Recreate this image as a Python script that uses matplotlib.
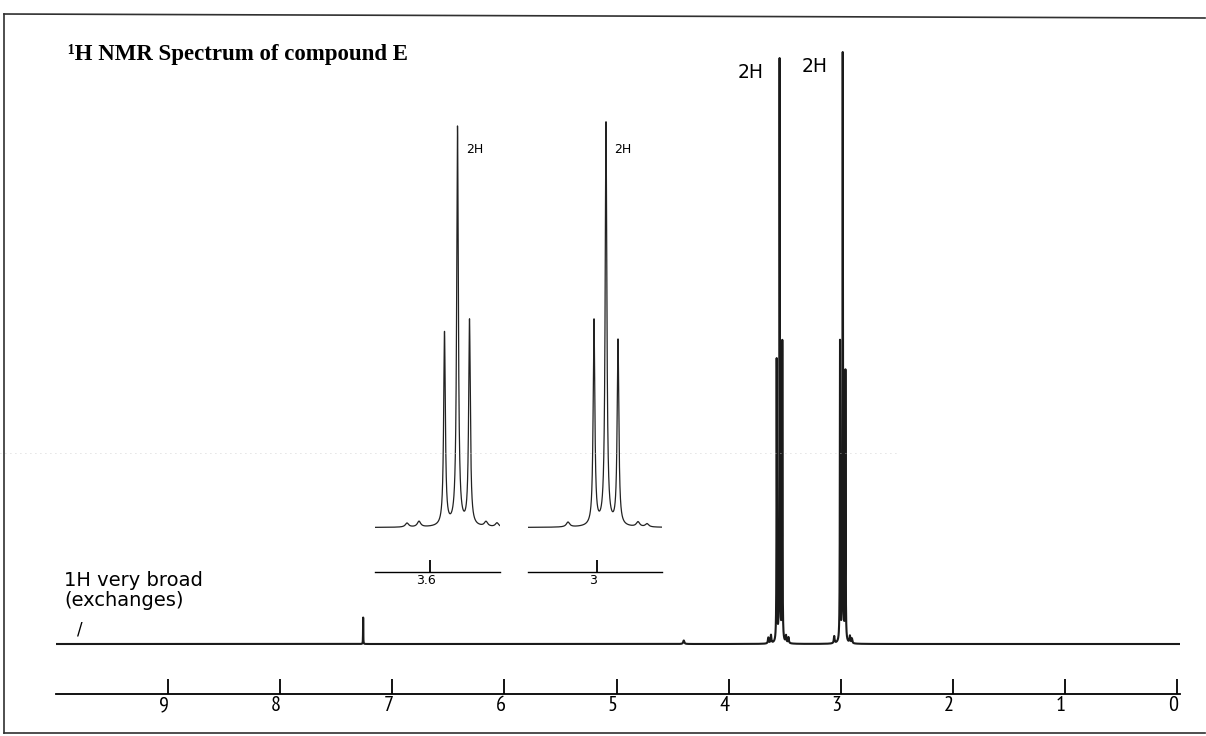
import numpy as np
import matplotlib.pyplot as plt
import matplotlib.transforms as mtransforms
from matplotlib.lines import Line2D
from matplotlib import font_manager

# ── DATA ──────────────────────────────────────────────────────────────────────
# two triplets, residual CHCl3 at 7.26 and a few tiny bumps near the baseline
PEAK_PPM    = [3.571, 3.545, 3.521, 3.006, 2.982, 2.958, 7.26, 4.40,
               3.646, 3.622, 3.488, 3.466, 3.058, 2.918, 2.900]
PEAK_HEIGHT = [0.48, 0.99, 0.51, 0.51, 1.00, 0.46, 0.045, 0.006,
               0.010, 0.014, 0.012, 0.010, 0.012, 0.012, 0.008]
PEAK_WIDTH  = [0.002, 0.002, 0.002, 0.002, 0.002, 0.002, 0.0012, 0.006,
               0.004, 0.004, 0.004, 0.004, 0.004, 0.004, 0.004]

SCALE_TICKS  = [9, 8, 7, 6, 5, 4, 3, 2, 1, 0]
INSET_TICKS  = [[3.6], [3.0]]
INSET_LABELS = [['3.6'], ['3']]
INT_LABELS   = ['2H', '2H']
TITLE = '¹H NMR Spectrum of compound E'
NOTE  = '1H very broad\n(exchanges)'

# ── HELPERS ───────────────────────────────────────────────────────────────────
W, H = 1206, 736
PX_PER_PPM = 112.1        # main scale
PX_PER_PPM_INSET = 500.0  # expansions

names = {f.name for f in font_manager.fontManager.ttflist}
SANS = 'DejaVu Sans'
NARROW = 'PT Sans Narrow' if 'PT Sans Narrow' in names else 'Liberation Sans'

fig = plt.figure(figsize=(W / 100, H / 100), dpi=100)
fig.patch.set_facecolor('white')


def px_axes(x0, y0, x1, y1):
    """axes from pixel box (top-left origin)"""
    ax = fig.add_axes([x0 / W, 1 - y1 / H, (x1 - x0) / W, (y1 - y0) / H])
    ax.patch.set_alpha(0)
    for s in ax.spines.values():
        s.set_visible(False)
    ax.set_xticks([])
    ax.set_yticks([])
    return ax


def spectrum(ppm):
    y = np.zeros_like(ppm)
    for p, h, w in zip(PEAK_PPM, PEAK_HEIGHT, PEAK_WIDTH):
        y += h / (1 + ((ppm - p) / w) ** 2)
    return y


def scale_axis(ax, ticks, labels, size, tick_len, font, shift_px):
    ax.spines['bottom'].set_visible(True)
    ax.spines['bottom'].set_linewidth(1.3)
    ax.set_xticks(ticks)
    ax.set_xticklabels(labels, fontsize=size, family=font)
    ax.tick_params(axis='x', direction='in', length=tick_len, width=1.3, pad=1.5)
    off = mtransforms.ScaledTranslation(shift_px / 100, 0, fig.dpi_scale_trans)
    for lab in ax.get_xticklabels():
        lab.set_transform(lab.get_transform() + off)


# ── MAIN SPECTRUM ─────────────────────────────────────────────────────────────
x_left, x_right = 56, 1180
ppm_left = 10.0
ppm_right = ppm_left - (x_right - x_left) / PX_PER_PPM

base_y, top_y = 644, 56           # baseline and full-height pixel rows
unit = base_y - top_y
ax = px_axes(x_left, 30, x_right, 660)
ax.set_xlim(ppm_left, ppm_right)
ax.set_ylim(-(660 - base_y) / unit, (base_y - 30) / unit)
ppm = np.linspace(ppm_left, ppm_right, 60000)
ax.plot(ppm, spectrum(ppm), color='#1a1a1a', lw=1.5)

# integration labels above the two big peaks
ax.text(3.69, 0.963, INT_LABELS[0], ha='right', va='baseline',
        fontsize=13.5, family=SANS)
ax.text(3.345, 0.973, INT_LABELS[1], ha='left', va='baseline',
        fontsize=13.5, family=SANS)

# ppm scale under the spectrum
sax = px_axes(x_left, 600, x_right, 694)
sax.set_xlim(ppm_left, ppm_right)
scale_axis(sax, SCALE_TICKS, [str(t) for t in SCALE_TICKS], 16, 10.8, NARROW, -4)

# ── EXPANSIONS ────────────────────────────────────────────────────────────────
insets = [(375, 500, 430), (528, 662, 597)]   # pixel left, right, tick position
ibase, iunit = 527.5, 403
for k, (ix0, ix1, itick) in enumerate(insets):
    t0 = INSET_TICKS[k][0]
    lo = t0 + (itick - ix0) / PX_PER_PPM_INSET
    hi = t0 - (ix1 - itick) / PX_PER_PPM_INSET
    iax = px_axes(ix0, 110, ix1, 535)
    iax.set_xlim(lo, hi)
    iax.set_ylim(-(535 - ibase) / iunit, (ibase - 110) / iunit)
    ip = np.linspace(lo, hi, 4000)
    iax.plot(ip, spectrum(ip), color='#222222', lw=0.9)
    iax.text(PEAK_PPM[3 * k + 1] - 0.017, 0.929, INT_LABELS[k], ha='left',
             va='baseline', fontsize=9, family=SANS)

    isx = px_axes(ix0, 540, ix1, 572)
    isx.set_xlim(lo, hi)
    scale_axis(isx, INSET_TICKS[k], INSET_LABELS[k], 9, 8.6, SANS, -4)
    isx.spines['bottom'].set_linewidth(1.0)

# ── TEXT ──────────────────────────────────────────────────────────────────────
fig.text(68 / W, 1 - 60 / H, TITLE, family='Liberation Serif', weight='bold',
         fontsize=16.5, ha='left', va='baseline')
fig.text(64 / W, 1 - 606 / H, NOTE, family=SANS, fontsize=14,
         ha='left', va='baseline', linespacing=1.05)
fig.text(77 / W, 1 - 635 / H, '/', family=SANS, fontsize=12,
         ha='left', va='baseline')

# ── SCAN FRAME + faint dotted guide ───────────────────────────────────────────
frame = dict(color='#303030', lw=1.2, transform=fig.transFigure)
fig.add_artist(Line2D([4 / W, 4 / W], [1 - 14 / H, 1 - 733 / H], **frame))
fig.add_artist(Line2D([4 / W, 1 - 1 / W], [1 - 14 / H, 1 - 18 / H], **frame))
fig.add_artist(Line2D([4 / W, 1 - 1 / W], [1 - 733 / H, 1 - 733 / H], **frame))
fig.add_artist(Line2D([0, 900 / W], [1 - 453 / H, 1 - 453 / H], color='#c8c8c8',
                      lw=0.6, ls=(0, (1, 5)), transform=fig.transFigure))

fig.savefig('out.png', dpi=100, facecolor='white')
